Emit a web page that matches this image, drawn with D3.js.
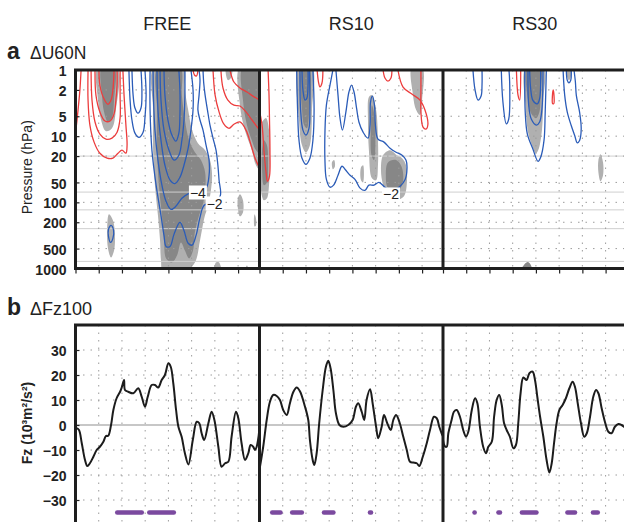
<!DOCTYPE html>
<html>
<head>
<meta charset="utf-8">
<style>
  body { margin: 0; background: #fff; }
  text { font-family: "Liberation Sans", Arial, sans-serif; fill: #222; }
</style>
</head>
<body>
<div id="chart"></div>
<script src="https://cdn.jsdelivr.net/npm/d3@7"></script>
<script>
const W = 624, H = 522;

// ---- data ----
const panels = ["FREE", "RS10", "RS30"];
const dayDomain = [-40, 39];
const dayTicks = [-40, -30, -20, -10, 0, 10, 20, 30];
const pTicks = [1, 2, 5, 10, 20, 50, 100, 200, 500, 1000];
const pRefLines = [20, 70, 130, 250, 780];
const fzTicks = [-30, -20, -10, 0, 10, 20, 30];

// contours of dU60N: [day, hPa] points, lev sign gives colour
const freeContours = [
  {lev: 2, pts: [[-37.6,1],[-38.1,2.0],[-38.9,4.0],[-39.6,6.8],[-40.2,8.7]]},
  {lev: 2, pts: [[-34.6,1],[-34.6,2.85],[-33.8,6.8],[-32,12.3],[-29.5,18.1],[-26.4,21.5],[-23.9,21.5],[-21.7,18.1],[-20,16.3],[-18.3,18.1],[-17.8,13.7],[-18.3,6.8],[-19.1,2.4],[-19.6,1]]},
  {lev: 4, pts: [[-33.3,1],[-32.9,2.85],[-31.6,6.1],[-29.5,9.3],[-26.9,11.1],[-24.3,10.7],[-22.1,8.7],[-20.8,5.3],[-20.8,2.4],[-20.8,1]]},
  {lev: 6, pts: [[-31.6,1],[-31.2,2.4],[-29.5,4.3],[-27.3,5.9],[-25.1,5.9],[-23.4,4.6],[-22.6,2.85],[-22.1,1.7],[-22.1,1]]},
  {lev: 8, pts: [[-29.9,1],[-29.5,1.7],[-27.7,2.75],[-26,3.3],[-24.7,2.85],[-23.9,2.0],[-23.4,1]]},
  {lev: -2, pts: [[-17,1],[-16.5,2.85],[-15.7,5.7],[-14.4,9.0],[-12.7,10.4],[-10.9,8.7],[-10.1,5.3],[-9.6,2.4],[-10.1,1]]},
  {lev: -4, pts: [[-15.7,1],[-15.2,2.4],[-14.4,3.76],[-13.1,4.5],[-11.8,3.76],[-11.4,2.2],[-11.8,1]]},
  {lev: -2, pts: [[-7.9,1],[-7.9,4.0],[-7.1,16.3],[-5.3,55],[-3.2,158],[-1.9,316],[-1,464],[0.7,464],[2.4,305],[4.95,201],[6.7,266],[8.5,415],[10.2,443],[11.9,316],[13.6,169],[15.4,111],[19.2,100],[22.3,80],[21.8,46],[21.3,27.5],[20.5,16.3],[19.2,10.7],[17.9,6.8],[16.8,4.0],[15.8,2.4],[15.2,1.57],[14.9,1]]},
  {lev: -4, pts: [[-6.6,1],[-6.4,2.85],[-5.8,8.1],[-4.5,23],[-2.8,55],[-1,97],[1.1,128],[3.2,115],[5.8,87],[8.9,73],[12.7,68],[16.2,61],[17.5,39],[17.5,23],[16.2,13.7],[14.9,8.1],[13.6,5.7],[12.7,4.0],[13.2,2.4],[13.6,1.42],[13.2,1]]},
  {lev: -6, pts: [[-4.9,1],[-4.5,4.0],[-3.2,11.5],[-1.5,27.5],[0.7,46],[2.8,52],[4.95,42],[6.7,27.5],[8.5,15.2],[9.7,8.1],[10.6,4.0],[10.6,2.0],[9.7,1]]},
  {lev: -8, pts: [[-3.6,1],[-3.2,2.85],[-1.9,8.1],[0.25,16.3],[2.4,23],[4.5,19.4],[5.8,11.5],[6.7,5.7],[7.1,2.4],[7.1,1]]},
  {lev: -10, pts: [[-1.9,1],[-1.5,2.4],[-0.2,5.7],[1.5,9.6],[3.2,11.9],[4.5,9.0],[4.95,4.8],[4.95,2.0],[4.5,1]]},
  {lev: -2, closed: true, pts: [[-24.7,223],[-23.6,266],[-23.9,351],[-24.9,404],[-25.8,327],[-25.8,257]]},
  {lev: 2, pts: [[10.6,1],[11.2,1.19],[12.1,1.23],[12.7,1]]},
  {lev: 2, pts: [[19.2,1],[20.1,2.4],[21.8,4.3],[23.9,6.6],[26.1,7.6],[28.2,6.6],[30.8,6.1],[33.4,8.1],[35.6,13.7],[37.3,21.5],[39.6,32]]},
  {lev: 4, pts: [[22.6,1],[23.5,1.87],[25.6,2.85],[28.2,3.4],[30.8,3.5],[33.4,4.3],[36,5.7],[39.6,8.4]]},
  {lev: 6, pts: [[26.5,1],[28.2,1.52],[30.8,1.87],[33.8,2.15],[36.4,2.48],[39.6,2.9]]}
];
const rs10Contours = [
  {lev: 2, pts: [[-40.5,3.4],[-38.9,6.8],[-38.1,16.3],[-37.2,35],[-36.6,48],[-35.7,40],[-35.5,16.3],[-35.7,5.7],[-35.9,2.4],[-36.3,1]]},
  {lev: -2, pts: [[-24,1],[-23.6,4.0],[-23,11.5],[-21.7,21.5],[-20,26.6],[-18.3,21.5],[-17,11.5],[-16.5,4.0],[-17,1]]},
  {lev: -4, pts: [[-22.6,1],[-22.3,4.0],[-21.3,8.1],[-20,9.6],[-18.7,7.6],[-18.3,4.0],[-18.5,1]]},
  {lev: -6, pts: [[-21.7,1],[-21.3,2.0],[-20.4,2.85],[-19.6,2.66],[-19.1,1.7],[-19.1,1]]},
  {lev: 2, pts: [[-15.2,1],[-14.6,1.52],[-14,1.8],[-13.1,1.57],[-12.7,1]]},
  {lev: -2, pts: [[-8.4,1],[-9.65,1.69],[-11.2,3.4],[-11.8,8.1],[-11.8,24.8],[-11.2,45],[-9.65,59],[-8.1,55],[-6.2,39],[-4.5,28.5],[-3.2,31.6],[-1,39],[1.1,45],[3.3,61],[5.4,66],[7.1,55],[9.3,55],[11.4,50],[14,59],[17,68],[20.5,57],[22.7,45],[23.5,30.5],[23.1,23.1],[21.4,19.4],[18.8,17.5],[16.2,15.2],[13.6,12.3],[11,11.1],[9.9,6.8],[9.5,3.4],[8.6,2.48],[7.8,3.05],[7.6,6.8],[6.7,10.7],[4.6,8.7],[2.8,6.1],[1.8,3.8],[0.7,2.15],[-0.4,1.69],[-1.5,2.15],[-2.8,4.3],[-4.3,8.1],[-5.35,5.3],[-6.2,2.4],[-7.1,1]]},
  {lev: 2, pts: [[13.2,1],[14,1.32],[15.3,1.47],[16.6,1.32],[17,1]]},
  {lev: 2, pts: [[19.6,1],[21.8,1.81],[25.6,2.31],[29.1,2.85],[31.2,4.0],[32.5,6.6],[31.7,7.8],[30.4,7.3],[29.5,4.3],[29.5,2.0],[29.5,1]]}
];
const rs30Contours = [
  {lev: -2, pts: [[-27.1,1],[-26.2,2.0],[-24.9,2.85],[-23.6,2.48],[-23.2,1.69],[-23.2,1]]},
  {lev: -2, pts: [[-14.9,1],[-14.2,3.05],[-12.75,6.5],[-11.7,5.5],[-11.3,1.52],[-11.6,1]]},
  {lev: 2, pts: [[-8.4,1],[-7.7,2.4],[-7.0,2.85],[-6.55,1]]},
  {lev: -2, pts: [[-4.8,1],[-4.6,4.3],[-3.7,9.2],[-1.3,15.6],[0.9,24],[2.05,20.8],[3.5,11.5],[4,4.3],[4.5,1]]},
  {lev: -4, pts: [[-3.4,1],[-3.1,3.4],[-2,5.5],[0.2,6.8],[1.6,6.1],[2.6,3.85],[3.05,1]]},
  {lev: -6, pts: [[-2.7,1],[-2.25,1.92],[-1.3,2.88],[0.6,3.24],[1.6,2.72],[2.05,1]]},
  {lev: 2, closed: true, pts: [[7.45,2.0],[7.8,2.48],[7.7,3.22],[7.2,3.22],[7.1,2.48]]},
  {lev: -2, pts: [[11.7,1],[12.4,2.42],[13.5,4.33],[15.2,6.9],[16.7,9.8],[17.8,12.6],[18.8,11.6],[19.5,7.75],[18.8,4.33],[17.4,2.42],[17,1.52],[16.4,1]]},
  {lev: -4, pts: [[13.1,1],[13.5,1.43],[14.2,1.56],[15,1.43],[15.2,1]]}
];

// contour labels [day, hPa, text]
const freeLabels = [[12.7, 71, "−4"], [19.9, 104, "−2"]];
const rs10Labels = [[16.6, 76, "−2"]];

// significance shading: lev 1 light, lev 2 dark
const freeShade = [
  {lev: 1, pts: [[-6.2,0.9],[-6.6,4.0],[-6.6,16.3],[-5.8,55],[-4.5,158],[-3.6,376],[-3.2,756],[-2.3,1100],[7.1,1100],[11.4,811],[13.6,376],[15.4,175],[17.1,111],[18.3,66],[18.8,39],[17.9,23],[15.8,16.3],[12.7,12.8],[10.2,8.1],[8.5,4.0],[7.1,2.0],[6.3,0.9]]},
  {lev: 2, pts: [[-4.5,0.9],[-4.9,4.0],[-4.9,16.3],[-4.1,55],[-2.8,158],[-1.9,376],[-1,705],[1.5,811],[3.7,638],[5.4,404],[7.1,534],[8.9,705],[10.6,534],[11.4,285],[13.2,158],[14.9,104],[15.8,66],[15.8,35],[14,23],[11.4,17.5],[8.9,11.5],[7.1,5.7],[5.8,2.4],[4.95,0.9]]},
  {lev: 1, pts: [[-30.3,0.9],[-30.3,2.85],[-29,5.7],[-26.9,8.4],[-24.3,7.6],[-22.6,4.0],[-22.1,0.9]]},
  {lev: 2, pts: [[-28.6,0.9],[-28.6,2.4],[-27.7,4.3],[-26,6.1],[-24.3,5.3],[-23.4,2.85],[-23.4,0.9]]},
  {lev: 1, pts: [[30.8,0.9],[30.8,3.4],[32.9,8.1],[35.9,16.3],[37.7,27.5],[40.3,35],[40.3,0.9]]},
  {lev: 2, pts: [[32.1,0.9],[32.1,2.85],[33.8,6.8],[35.9,11.5],[37.7,16.3],[40.3,19.4],[40.3,0.9]]},
  {lev: 1, pts: [[24.8,0.9],[25.6,1.42],[26.9,1.32],[27.3,0.9]]},
  {lev: 1, pts: [[-25.6,152],[-23.9,187],[-23,316],[-23.4,534],[-24.7,682],[-26,498],[-26.4,266]]},
  {lev: 1, pts: [[30.8,75.6],[32.1,93],[32.1,142],[30.8,163],[29.9,123],[29.9,87]]},
  {lev: 1, pts: [[37.1,152],[37.7,175],[37.7,223],[37.1,231],[36.8,187]]},
  {lev: 1, pts: [[19.6,1100],[20.5,811],[21.8,811],[22.6,1100]]},
  {lev: 1, pts: [[32.9,1100],[33.8,900],[34.6,1100]]}
];
const rs10Shade = [
  {lev: 1, pts: [[-38.9,6.1],[-37.2,5.3],[-35.9,8.1],[-35.5,23],[-35.9,55],[-36.8,87],[-38.1,93],[-39.4,66],[-39.8,23],[-39.8,8.1]]},
  {lev: 2, pts: [[-38.1,11.5],[-36.8,13.7],[-36.3,27.5],[-36.8,50],[-38.1,55],[-38.9,32.7],[-38.9,16.3]]},
  {lev: 1, pts: [[-23,0.9],[-23,5.7],[-21.7,13.7],[-20,17.5],[-18.3,13.7],[-17.4,4.0],[-17.4,0.9]]},
  {lev: 2, pts: [[-21.7,0.9],[-21.7,4.0],[-20.8,6.8],[-19.6,7.6],[-18.7,4.8],[-18.7,0.9]]},
  {lev: 1, pts: [[7.1,2.57],[8.4,2.39],[10.2,4.0],[11,11.5],[11,27.5],[10.2,46.4],[8.4,43.3],[7.1,16.3],[6.7,5.7]]},
  {lev: 2, pts: [[8.4,3.4],[9.5,4.8],[9.9,11.5],[9.3,23],[8.2,19.4],[8,6.8]]},
  {lev: 1, pts: [[13.2,19.4],[16.2,16.3],[19.2,19.4],[21.4,21.5],[23.1,27.5],[23.5,46.4],[22.2,81],[18.8,93],[15.3,87],[13.2,55],[12.3,32.7]]},
  {lev: 2, pts: [[15.3,25],[18.8,23],[21.4,30.5],[21.4,55],[18.4,70],[15.3,61],[14.4,39]]},
  {lev: 1, pts: [[25.6,0.9],[26.1,2.4],[27.4,4.0],[29.1,4.8],[30,2.85],[30,0.9]]},
  {lev: 1, pts: [[-8.8,24.8],[-7.9,23],[-7.5,28.5],[-8.4,31.6]]},
  {lev: 1, pts: [[3.7,29.5],[4.6,27.5],[4.6,50],[3.7,46.4]]}
];
const rs30Shade = [
  {lev: 1, pts: [[-4.3,0.9],[-4.3,4.0],[-3.4,8.7],[-1.7,13.7],[0.05,18.1],[1.3,15.2],[2.6,8.1],[3.2,2.85],[3.2,0.9]]},
  {lev: 2, pts: [[-3.6,0.9],[-3.4,2.85],[-2.1,4.5],[0.05,5.34],[1.5,4.33],[2.0,2.0],[2.0,0.9]]},
  {lev: 1, pts: [[13.2,0.9],[13.6,1.32],[14.2,1.42],[14.9,1.32],[15.1,0.9]]},
  {lev: 1, pts: [[27.8,18.7],[28.9,24.8],[28.9,38.9],[27.8,48],[26.9,35],[26.9,23.1]]},
  {lev: 2, pts: [[-6.4,1100],[-5,870],[-3.4,800],[-2.1,900],[-1.7,1100]]},
  {lev: 1, pts: [[29.8,1100],[30.6,960],[31.7,1100]]}
];

// dFz100 series [day, value]
const fzFree = [[-40,-1.5],[-39.5,-1.3],[-38.5,-2.0],[-37.3,-7.3],[-35.9,-14],[-34.9,-16.4],[-33.8,-15.3],[-32.3,-12.7],[-30.9,-10],[-29.5,-8.7],[-28,-6.7],[-26.9,-4.4],[-25.9,-4.3],[-24.7,0],[-23.7,6],[-22.3,10.7],[-20.8,13.3],[-20.1,15],[-19.1,18],[-18.7,14],[-17.3,13.3],[-15.1,12.7],[-13,14.7],[-11.5,11.3],[-10.1,7.3],[-8.9,11.3],[-7.2,16],[-5.8,16],[-4.4,15],[-2.9,18],[-1.5,20],[0,24.7],[1,23.3],[2.1,16.7],[3.3,6],[4.3,-0.7],[5.7,-4.7],[7.1,-11.3],[8.6,-15.8],[10.5,-6],[12.2,1.3],[13.3,0.7],[14.3,-3.3],[15.4,-6],[17.2,0.7],[18.6,5.3],[19.8,2],[21.5,-8.7],[22.9,-16.7],[24.4,-15.3],[25.8,-14.7],[27.2,-4.7],[29.1,5.3],[30.1,2.7],[31.5,-7.3],[33,-14],[34.4,-11.3],[35.4,-8],[36.5,-8.7],[37.3,-10],[38,-8.7],[38.7,-5.3],[39,-3]];
const fzRs10 = [[-39.8,-16.7],[-38.4,-8.7],[-36.9,2],[-35.5,9.3],[-34.1,12],[-32.6,11.6],[-31.2,10],[-29.8,6],[-28.3,4],[-26.9,8.7],[-25.4,13.3],[-24,15],[-22.6,13.5],[-20.4,7.3],[-19,2],[-18.3,-6],[-17.1,-14],[-16.4,-16],[-15.4,-11.3],[-14.3,0.7],[-12.8,14],[-11.4,23.3],[-10.4,25.7],[-9.4,22.7],[-8.2,14],[-7.1,4.7],[-5.6,0],[-3.9,-0.7],[-1.8,0],[0.1,2],[1.5,7.3],[2.5,8.7],[4,5.3],[5.1,2],[6.1,10],[7.6,14.3],[8.7,8.7],[10.2,-0.7],[11.1,-5.3],[12.6,-0.7],[13.6,4],[15,0.7],[16.5,-2],[17.6,2],[18.8,4],[20.2,1.3],[21.9,-4.7],[23.4,-10],[24.8,-14.7],[26.2,-15],[27.7,-15.3],[28.8,-16.4],[30.3,-12.7],[32,-7.3],[33.4,-2],[35.1,3.3],[36.3,2.7],[37.4,-0.7],[38.4,-3.3],[39,-4.5]];
const fzRs30 = [[-40,-6],[-39.2,-8.5],[-38.4,-8.7],[-37.7,-3.3],[-36.3,2],[-35.3,5.3],[-34.1,6],[-32.7,3.3],[-31.3,-2],[-30.1,-4.7],[-29.1,-2.7],[-27.6,6],[-26.2,10.7],[-25.2,8.7],[-24.1,-0.7],[-22.7,-8.7],[-21.5,-11.3],[-20.5,-8.7],[-19,-6.7],[-18,3.3],[-16.9,10],[-15.8,12],[-14.7,8],[-13.7,0.7],[-12.6,-2],[-11.2,-4.7],[-9.7,-9.3],[-8.6,-8],[-7.6,0.7],[-6.6,12.7],[-5.4,19],[-4,18],[-2.8,20.7],[-1.4,21.3],[-0.4,18],[0.6,11.3],[1.8,3.3],[3.2,-4.7],[4.6,-14],[5.8,-19],[6.8,-15.3],[7.8,-7.3],[8.9,0.7],[10.1,6],[11.5,8],[12.9,10.7],[14.4,14.7],[15.8,17.3],[16.8,15.3],[18,8.7],[19.4,0.7],[20.8,-4.7],[21.9,-3.3],[23.3,3.3],[24.7,11.3],[25.9,14],[26.9,12.7],[28.3,6.7],[29.7,1.3],[31.2,-2.7],[32.6,-3.3],[34,-0.7],[35.5,0.4],[36.9,0],[37.9,-0.7],[39,-1.5]];

// significant periods [startDay, endDay]
const sigFree = [[-23,-10.5],[-9.2,3.3]];
const sigRs10 = [[-35.5,-30],[-26.9,-20.8],[-13.2,-7.2],[6.6,9]];
const sigRs30 = [[-27.4,-25.4],[-17.1,-14.5],[-7,1.2],[12.6,17.8],[23.6,27.6]];
const sigLevel = -35;

const contourSets = [freeContours, rs10Contours, rs30Contours];
const labelSets = [freeLabels, rs10Labels, []];
const shadeSets = [freeShade, rs10Shade, rs30Shade];
const fzSets = [fzFree, fzRs10, fzRs30];
const sigSets = [sigFree, sigRs10, sigRs30];

// ---- layout ----
const lefts = [75.5, 259.5, 443];
const pw = 183.5;
const aTop = 70, aBot = 268.5, bTop = 325, bBot = 525;
const red = "#ec3d3d", blue = "#2b5cb8";
const shadeCol = {1: "#b0b0b0", 2: "#878787"};

const svg = d3.select("#chart").append("svg")
    .attr("width", W).attr("height", H);

const yA = d3.scaleLog().domain([1, 1000]).range([aTop, aBot]);
const yB = d3.scaleLinear().domain([-40, 40]).range([bBot, bTop]);
const xs = lefts.map(l => d3.scaleLinear().domain(dayDomain).range([l, l + pw]));

const defs = svg.append("defs");
lefts.forEach((l, i) => {
    defs.append("clipPath").attr("id", "ca" + i).append("rect")
        .attr("x", l).attr("y", aTop).attr("width", pw).attr("height", aBot - aTop);
    defs.append("clipPath").attr("id", "cb" + i).append("rect")
        .attr("x", l).attr("y", bTop).attr("width", pw).attr("height", bBot - bTop);
});

const dotted = sel => sel.attr("stroke", "#9c9c9c").attr("stroke-width", 1)
    .attr("stroke-dasharray", "1.5,6");

panels.forEach((name, i) => {
    const x = xs[i];
    const l = lefts[i];
    const openLine = d3.line().x(d => x(d[0])).y(d => yA(d[1])).curve(d3.curveCatmullRom.alpha(0.5));
    const closedLine = d3.line().x(d => x(d[0])).y(d => yA(d[1])).curve(d3.curveCatmullRomClosed.alpha(0.5));

    // panel a
    const ga = svg.append("g").attr("clip-path", `url(#ca${i})`);
    [1, 2].forEach(lev => {
        ga.selectAll(null).data(shadeSets[i].filter(s => s.lev === lev)).enter()
            .append("path").attr("d", s => closedLine(s.pts))
            .attr("fill", shadeCol[lev]).attr("stroke", "none");
    });
    ga.selectAll(null).data(pRefLines).enter().append("line")
        .attr("x1", l).attr("x2", l + pw).attr("y1", yA).attr("y2", yA)
        .attr("stroke", "#cfcfcf").attr("stroke-width", 1);
    ga.selectAll(null).data(pTicks.slice(1, -1)).enter().append("line")
        .attr("x1", l).attr("x2", l + pw).attr("y1", yA).attr("y2", yA).call(dotted);
    ga.selectAll(null).data(dayTicks.slice(1)).enter().append("line")
        .attr("x1", x).attr("x2", x).attr("y1", aTop).attr("y2", aBot).call(dotted);
    ga.selectAll(null).data(contourSets[i]).enter().append("path")
        .attr("d", c => c.closed ? closedLine(c.pts) : openLine(c.pts))
        .attr("fill", "none").attr("stroke", c => c.lev > 0 ? red : blue)
        .attr("stroke-width", 1.3);
    const lab = ga.selectAll(null).data(labelSets[i]).enter().append("g")
        .attr("transform", d => `translate(${x(d[0])},${yA(d[1])})`);
    lab.append("rect").attr("x", -9).attr("y", -7).attr("width", 18).attr("height", 14).attr("fill", "#fff");
    lab.append("text").attr("text-anchor", "middle").attr("dy", "0.36em")
        .attr("font-size", 14).text(d => d[2]);

    // panel b
    const gb = svg.append("g").attr("clip-path", `url(#cb${i})`);
    gb.selectAll(null).data(fzTicks.filter(v => v !== 0)).enter().append("line")
        .attr("x1", l).attr("x2", l + pw).attr("y1", yB).attr("y2", yB).call(dotted);
    gb.selectAll(null).data(dayTicks.slice(1)).enter().append("line")
        .attr("x1", x).attr("x2", x).attr("y1", bTop).attr("y2", bBot).call(dotted);
    gb.append("line").attr("x1", l).attr("x2", l + pw).attr("y1", yB(0)).attr("y2", yB(0))
        .attr("stroke", "#b4b4b4").attr("stroke-width", 1.5);
    gb.append("path").datum(fzSets[i])
        .attr("d", d3.line().x(d => x(d[0])).y(d => yB(d[1])).curve(d3.curveCatmullRom.alpha(0.5)))
        .attr("fill", "none").attr("stroke", "#1c1c1c").attr("stroke-width", 2);
    gb.selectAll(null).data(sigSets[i]).enter().append("rect")
        .attr("x", d => x(d[0])).attr("width", d => x(d[1]) - x(d[0]))
        .attr("y", yB(sigLevel) - 2.2).attr("height", 4.4).attr("rx", 2.2)
        .attr("fill", "#7b4a9f");

    // bottom ticks of panel a
    svg.append("g").attr("transform", `translate(0,${aBot})`)
        .call(d3.axisBottom(x).tickValues(dayTicks).tickSize(5).tickFormat(""))
        .call(g => g.select(".domain").remove())
        .call(g => g.selectAll("line").attr("stroke", "#222").attr("stroke-width", 1.2));

    // panel title
    svg.append("text").attr("x", l + pw / 2).attr("y", 30)
        .attr("text-anchor", "middle").attr("font-size", 18).attr("fill", "#333").text(name);
});

// left axes
const styleAxis = g => {
    g.select(".domain").remove();
    g.selectAll("line").attr("stroke", "#222").attr("stroke-width", 1.2);
    g.selectAll("text").attr("font-size", 14).attr("font-weight", "bold").attr("dy", "0.4em")
        .attr("fill", "#222").attr("font-family", "'Liberation Sans', Arial, sans-serif");
};
svg.append("g").attr("transform", `translate(${lefts[0]},0)`)
    .call(d3.axisLeft(yA).tickValues(pTicks).tickFormat(d3.format("d")).tickSize(-4).tickPadding(9))
    .call(styleAxis);
svg.append("g").attr("transform", `translate(${lefts[0]},0)`)
    .call(d3.axisLeft(yB).tickValues(fzTicks).tickFormat(d3.format("d")).tickSize(-4).tickPadding(9))
    .call(styleAxis);

// frames
const frame = svg.append("g").attr("stroke", "#1e1e1e").attr("stroke-width", 3).attr("fill", "none");
frame.append("line").attr("x1", lefts[0] - 1.5).attr("x2", W + 5).attr("y1", aTop).attr("y2", aTop);
frame.append("line").attr("x1", lefts[0] - 1.5).attr("x2", W + 5).attr("y1", aBot).attr("y2", aBot);
frame.append("line").attr("x1", lefts[0] - 1.5).attr("x2", W + 5).attr("y1", bTop).attr("y2", bTop);
lefts.forEach(l => {
    frame.append("line").attr("x1", l).attr("x2", l).attr("y1", aTop).attr("y2", aBot);
    frame.append("line").attr("x1", l).attr("x2", l).attr("y1", bTop).attr("y2", bBot);
});

// panel letters and titles
svg.append("text").attr("x", 7).attr("y", 59).attr("font-size", 23).attr("font-weight", "bold").text("a");
svg.append("text").attr("x", 30).attr("y", 58.5).attr("font-size", 17.5).attr("fill", "#222").text("ΔU60N");
svg.append("text").attr("x", 7).attr("y", 315).attr("font-size", 23).attr("font-weight", "bold").text("b");
svg.append("text").attr("x", 30).attr("y", 315).attr("font-size", 18).attr("fill", "#222").text("ΔFz100");

// axis titles
svg.append("text").attr("transform", `translate(32,${(aTop + aBot) / 2 - 2}) rotate(-90)`)
    .attr("text-anchor", "middle").attr("font-size", 14).text("Pressure (hPa)");
svg.append("text").attr("transform", `translate(32,423) rotate(-90)`)
    .attr("text-anchor", "middle").attr("font-size", 14).attr("font-weight", "bold").text("Fz (10³m²/s²)");
</script>
</body>
</html>
